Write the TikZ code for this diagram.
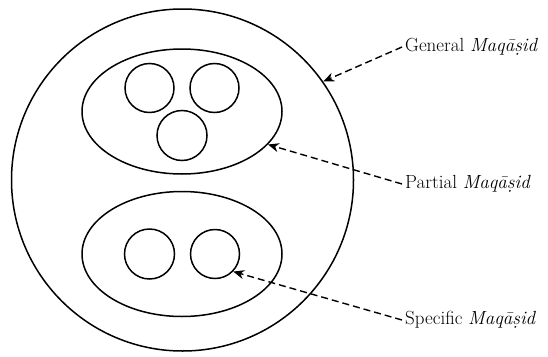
\documentclass[tikz,border=0pt]{standalone}
\usepackage{fontspec}
\usetikzlibrary{shapes.geometric,arrows.meta}
\begin{document}
\begin{tikzpicture}[x=1pt,y=-1pt,
  ring/.style={draw=black,line width=1.5pt,circle,inner sep=0pt,minimum size=#1},
  oval/.style={draw=black,line width=1.5pt,ellipse,inner sep=0pt,minimum width=200pt,minimum height=125pt},
  lbl/.style={anchor=west,inner sep=3pt,font=\fontsize{19}{22}\selectfont},
  pointer/.style={dashed,dash pattern=on 7pt off 4pt,line width=1.4pt,-{Stealth[length=11pt,width=9pt]}}]
\useasboundingbox (0,0) rectangle (548,356);
\node[ring=342pt] (outer) at (182.5,180) {};
\node[oval] (upper) at (182,111.5) {};
\node[oval] (lower) at (182,254) {};
\node[ring=49pt] (u1) at (149.5,88) {};
\node[ring=49pt] (u2) at (214.5,88) {};
\node[ring=50pt] (u3) at (182,135.5) {};
\node[ring=50pt] (l1) at (149.5,254) {};
\node[ring=49pt] (l2) at (215,254) {};
\node[lbl] (gen) at (402,47) {General \textit{Maq\={a}\d{s}id}};
\node[lbl] (par) at (402,184) {Partial \textit{Maq\={a}\d{s}id}};
\node[lbl] (spe) at (402,320) {Specific \textit{Maq\={a}\d{s}id}};
\draw[pointer] (gen.west) -- (outer.35);
\draw[pointer] (par.west) -- (upper.-21);
\draw[pointer] (spe.west) -- (l2.-44);
\end{tikzpicture}
\end{document}
